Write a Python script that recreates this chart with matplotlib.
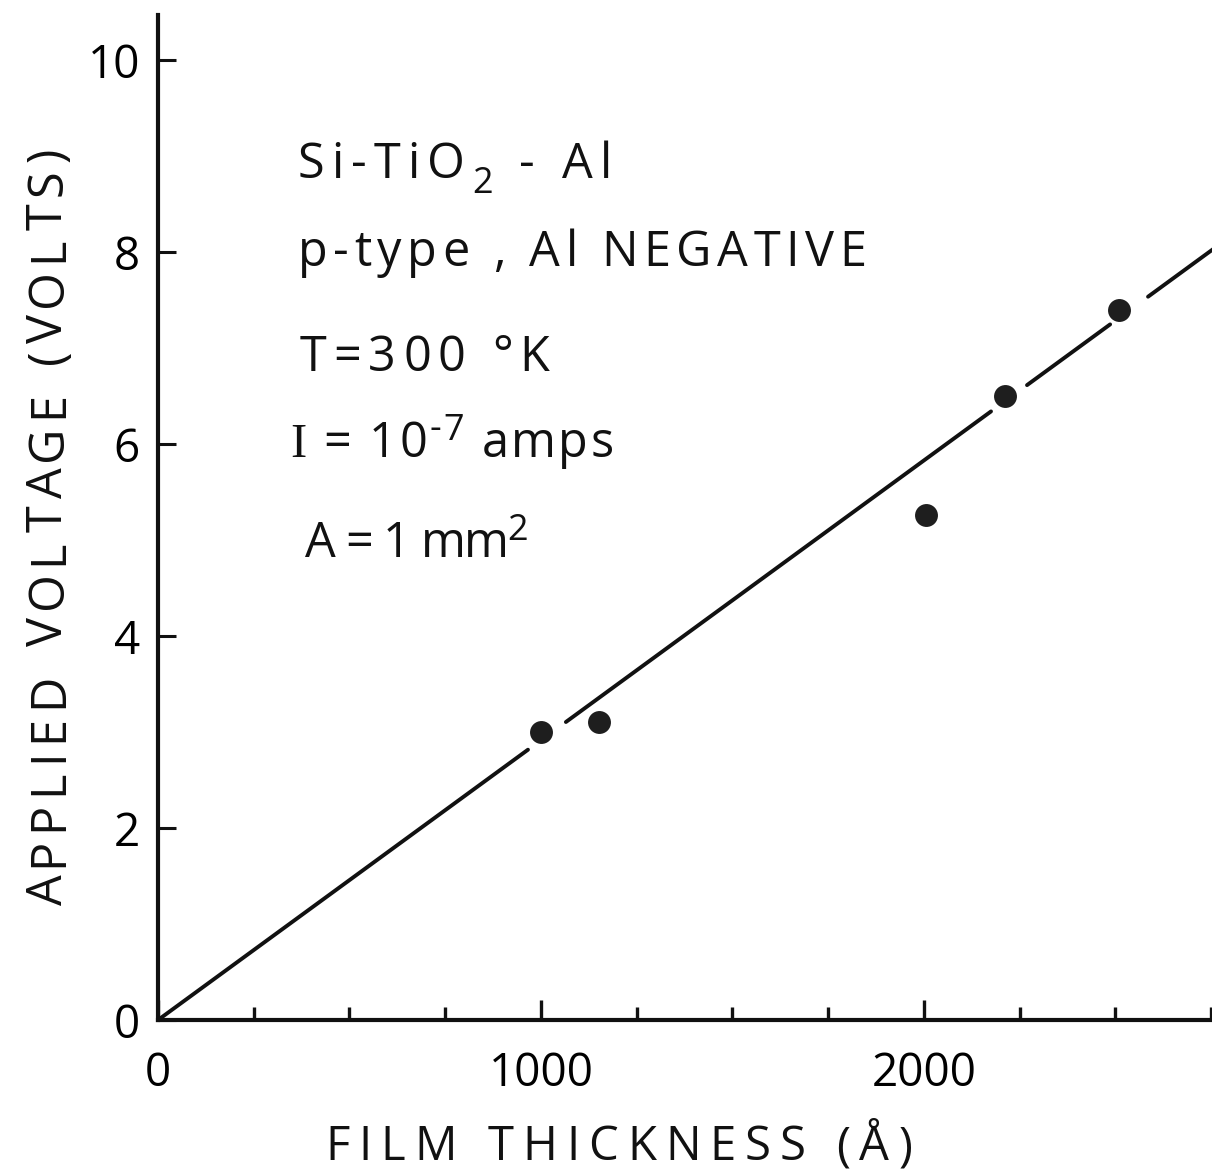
import matplotlib
matplotlib.use("Agg")
import matplotlib.pyplot as plt
import numpy as np
from matplotlib.ticker import MultipleLocator, FixedLocator
from matplotlib.font_manager import FontProperties, findfont, get_font
try:
    from matplotlib.ft2font import LoadFlags
    NOHINT = LoadFlags.NO_HINTING
except Exception:
    from matplotlib.ft2font import LOAD_NO_HINTING as NOHINT

# ---- data ----
thickness = [1000, 1152, 2005, 2212, 2510]      # film thickness (Å)
voltage = [3.0, 3.1, 5.26, 6.5, 7.4]            # applied voltage (V)
fit_slope = 2.915e-3                             # drawn line, V per Å (through origin)
fit_segments = [(0, 966), (1065, 2175), (2269, 2486), (2585, 2760)]  # drawn pieces of the line (Å)
x_major = [0, 1000, 2000]
x_major_labels = ["0", "1000", "2000"]
y_major = [0, 2, 4, 6, 8, 10]
y_major_labels = ["0", "2", "4", "6", "8", "10"]
x_title = "FILM THICKNESS (Å)"
y_title = "APPLIED VOLTAGE (VOLTS)"
# annotation lines: (text, kind) pieces; kind n=normal, sub, sup, serif
notes = [
    [("Si-TiO", "n"), ("2", "sub"), (" - Al", "n")],
    [("p-type , Al NEGATIVE", "n")],
    [("T=300 °K", "n")],
    [("I", "serif"), (" = 10", "n"), ("-7", "sup"), (" amps", "n")],
    [("A = 1 mm", "n"), ("2", "sup")],
]

FAM = 'Open Sans'
plt.rcParams['font.family'] = [FAM, 'DejaVu Sans']

W, H = 1212, 1170
DPI = 100
fig = plt.figure(figsize=(W / DPI, H / DPI), dpi=DPI)
ax = fig.add_axes([158 / W, (H - 1020) / H, (W - 158) / W, (1020 - 15) / H])
ax.set_xlim(0, 2752)
ax.set_ylim(0, 10.47)

ink = '#111111'
for a, b in fit_segments:
    xs = np.array([a, b])
    ax.plot(xs, fit_slope * xs, color=ink, lw=2.8, solid_capstyle='round', clip_on=True)

ax.plot(thickness, voltage, 'o', color='#1e1e1e', markersize=16.5, markeredgewidth=0, zorder=3)

for s in ['top', 'right']:
    ax.spines[s].set_visible(False)
for s in ['left', 'bottom']:
    ax.spines[s].set_linewidth(3.0)
    ax.spines[s].set_color(ink)

ax.xaxis.set_major_locator(FixedLocator(x_major))
ax.set_xticklabels(x_major_labels)
ax.xaxis.set_minor_locator(MultipleLocator(250))
ax.yaxis.set_major_locator(FixedLocator(y_major))
ax.set_yticklabels(y_major_labels)

ax.tick_params(axis='x', which='major', direction='in', length=14.5, width=2.4,
               color=ink, pad=22, labelsize=33)
ax.tick_params(axis='x', which='minor', direction='in', length=9.5, width=2.4, color=ink)
ax.tick_params(axis='y', which='major', direction='in', length=13, width=2.2,
               color=ink, pad=13, labelsize=33)


def fam_of(kind):
    return 'Liberation Serif' if kind == 'serif' else FAM


def advance(c, family, size_pt):
    font = get_font(findfont(FontProperties(family=family)))
    font.set_size(size_pt, DPI)
    g = font.load_char(ord(c), flags=NOHINT)
    return g.linearHoriAdvance / 65536.0


def draw_tracked(parts, x0, y0, size, width, rot=0):
    """Draw text with letter spacing so it spans `width` pixels.
    x0, y0: start of baseline in pixels from top-left."""
    em = size * DPI / 72.0
    items = []
    for s, kind in parts:
        sz = size * 0.74 if kind in ('sub', 'sup') else size
        dy = {'n': 0.0, 'serif': 0.0, 'sub': -0.3 * em, 'sup': 0.36 * em}[kind]
        for c in s:
            items.append((c, fam_of(kind), sz, dy))
    advs = [advance(c, f, sz) for c, f, sz, dy in items]
    natural = sum(advs[:-1]) + advs[-1] * 0.85
    track = (width - natural) / max(len(items) - 1, 1)
    cur = 0.0
    for (c, f, sz, dy), a in zip(items, advs):
        if c != ' ':
            if rot == 0:
                fig.text((x0 + cur) / W, 1 - (y0 - dy) / H, c, family=[f, 'DejaVu Sans'],
                         fontsize=sz, color=ink, ha='left', va='baseline')
            else:
                fig.text((x0 - dy) / W, 1 - (y0 - cur) / H, c, family=[f, 'DejaVu Sans'],
                         fontsize=sz, color=ink, ha='left', va='baseline',
                         rotation=90, rotation_mode='anchor')
        cur += a + track


# axis titles
draw_tracked([(x_title, 'n')], 325, 1160, 34, 585)
draw_tracked([(y_title, 'n')], 62, 905, 35, 755, rot=90)

# annotations: (left x, baseline y, width) in pixels
note_pos = [(298, 178, 312), (298, 266, 564), (300, 371, 245), (290, 457, 320), (305, 557, 220)]
for (x, y, w), parts in zip(note_pos, notes):
    draw_tracked(parts, x, y, 35, w)

fig.savefig("out.png", dpi=DPI)
